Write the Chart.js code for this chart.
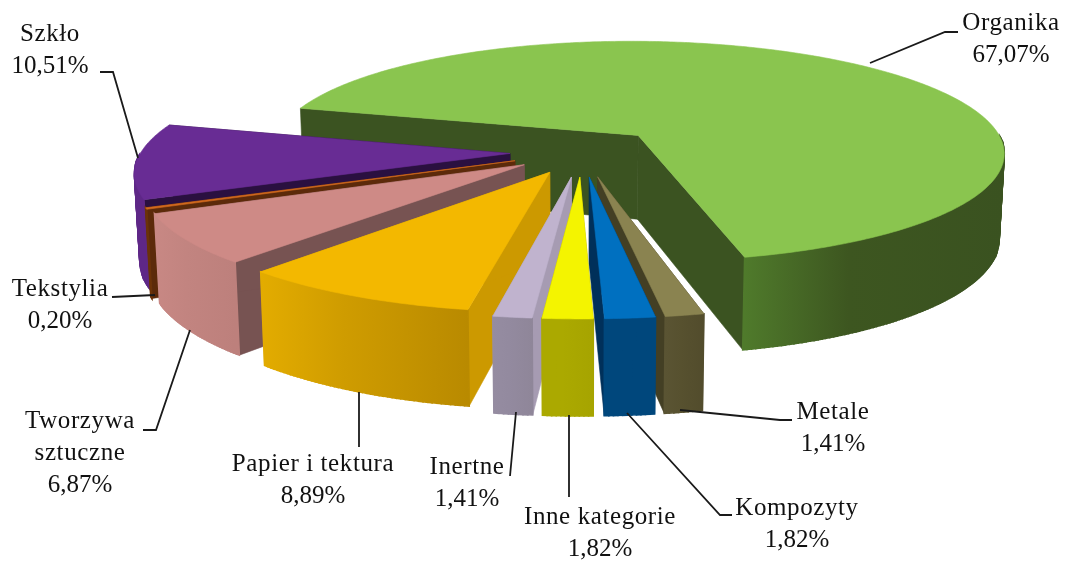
<!DOCTYPE html>
<html>
<head>
<meta charset="utf-8">
<title>Skład odpadów</title>
<script src="https://cdn.jsdelivr.net/npm/chart.js@4"></script>
<style>
  html, body { margin: 0; background: #fff; }
  canvas { display: block; }
</style>
</head>
<body>
<canvas id="wasteChart" width="1067" height="563"></canvas>
<script>
// data, clockwise from Organika
const categories = ['Organika', 'Metale', 'Kompozyty', 'Inne kategorie', 'Inertne', 'Papier i tektura', ['Tworzywa', 'sztuczne'], 'Tekstylia', 'Szkło'];
const shares = [67.07, 1.41, 1.82, 1.82, 1.41, 8.89, 6.87, 0.20, 10.51];

// how far each slice is pulled out, in plane units
const explode = [80, 80, 80, 80, 80, 72, 70, 72, 72];

// colours per slice
const topColors = ['#8AC54F', '#8A8350', '#0070C0', '#F4F400', '#C0B3CE', '#F3B800', '#CE8A86', '#D2691E', '#682C94'];
const faceColors = ['#3B5321', '#433F24', '#00305A', '#ABA900', '#A69BB2', '#CC9900', '#775352', '#5C2A0A', '#2A1040'];
const rimColors = [
  ['#4F7A2B', '#3D5620', '#3A5220'],
  ['#5A5433', '#57512F', '#524C2C'],
  ['#00477C', '#00477C', '#00477C'],
  ['#ABA900', '#ABA900', '#A6A400'],
  ['#958CA1', '#938A9F', '#8F8699'],
  ['#E3AC00', '#CF9C00', '#B98A00'],
  ['#C88884', '#C28480', '#BD807C'],
  ['#6B3208', '#6B3208', '#6B3208'],
  ['#5E2787', '#5E2787', '#5E2787']
];

// label placement: text centre x, first line middle y, line gap
const labelX = [1011, 833, 797, 600, 467, 313, 80, 60, 50];
const labelY = [23, 412, 508, 517, 467, 464, 421, 289, 34];
const lineGap = 32;
const leaders = [
  [[870, 63], [945, 32], [958, 32]],
  [[680, 410], [780, 420], [792, 420]],
  [[627, 413], [720, 515], [732, 515]],
  [[569, 415], [569, 497]],
  [[516, 412], [510, 476]],
  [[359, 392], [359, 447]],
  [[190, 330], [156, 430], [143, 430]],
  [[155, 295], [112, 297]],
  [[138, 158], [113, 72], [100, 72]]
];

// projection of the pie plane on to the picture
const centerX = 582, centerY = 152;
const planeRadius = 369, tilt = 0.305, perspective = 0.0004;

function project(u, v) {
  const w = 1 / (1 - perspective * v);
  return { x: centerX + u * w, y: centerY + tilt * v * w, w: w };
}
function lower(p) {
  // bottom of the wall under a point of the top face
  return { x: centerX + (p.x - centerX) * 0.988, y: p.y + 30 + 55 * p.w };
}
function fillPath(ctx, pts, fill, edge = 0.6) {
  ctx.beginPath();
  pts.forEach((p, i) => i ? ctx.lineTo(p.x, p.y) : ctx.moveTo(p.x, p.y));
  ctx.closePath();
  ctx.fillStyle = fill;
  ctx.strokeStyle = fill;
  ctx.lineWidth = edge;
  ctx.fill();
  ctx.stroke();
}

const pie3d = {
  id: 'pie3d',
  // the flat arcs are replaced by the tilted ones below
  beforeDatasetDraw() { return false; },
  afterDatasetsDraw(chart) {
    const ctx = chart.ctx;
    const slices = chart.getDatasetMeta(0).data.map((el, i) => {
      const mid = (el.startAngle + el.endAngle) / 2;
      const ox = Math.cos(mid) * el.options.offset;
      const oy = Math.sin(mid) * el.options.offset;
      const steps = Math.max(2, Math.ceil((el.endAngle - el.startAngle) * 90));
      const rim = [], front = [];
      for (let s = 0; s <= steps; s++) {
        const a = el.startAngle + (el.endAngle - el.startAngle) * s / steps;
        const p = project(ox + Math.cos(a) * planeRadius, oy + Math.sin(a) * planeRadius);
        rim.push(p);
        // wall only on the half facing the viewer
        if (Math.sin(a) >= 0) front.push(p);
      }
      return { i, mid, apex: project(ox, oy), rim, front };
    });

    // far slices first
    slices.sort((a, b) => Math.sin(a.mid) - Math.sin(b.mid));
    slices.forEach(s => {
      const first = s.rim[0], last = s.rim[s.rim.length - 1];
      fillPath(ctx, [s.apex, first, lower(first), lower(s.apex)], faceColors[s.i]);
      fillPath(ctx, [s.apex, last, lower(last), lower(s.apex)], faceColors[s.i]);
      if (s.front.length > 1) {
        const xs = s.front.map(p => p.x);
        const grad = ctx.createLinearGradient(Math.min(...xs), 0, Math.max(...xs), 0);
        const stops = rimColors[s.i];
        grad.addColorStop(0, stops[0]);
        grad.addColorStop(0.4, stops[1]);
        grad.addColorStop(1, stops[2]);
        // one quad per step, the outline of the whole wall folds over itself at the edges
        for (let n = 0; n < s.front.length - 1; n++) {
          const a = s.front[n], b = s.front[n + 1];
          fillPath(ctx, [a, b, lower(b), lower(a)], grad, 1.6);
        }
      }
      fillPath(ctx, [s.apex].concat(s.rim), topColors[s.i]);
    });
  },
  afterDraw(chart) {
    const ctx = chart.ctx;
    ctx.save();
    ctx.strokeStyle = '#1a1a1a';
    ctx.lineWidth = 1.8;
    leaders.forEach(line => {
      ctx.beginPath();
      line.forEach((p, i) => i ? ctx.lineTo(p[0], p[1]) : ctx.moveTo(p[0], p[1]));
      ctx.stroke();
    });
    ctx.fillStyle = '#111';
    ctx.font = '25px "Liberation Serif"';
    ctx.textAlign = 'center';
    ctx.textBaseline = 'middle';
    categories.forEach((name, i) => {
      const names = [].concat(name);
      ctx.letterSpacing = '0.6px';
      names.forEach((t, n) => ctx.fillText(t, labelX[i], labelY[i] + n * lineGap));
      ctx.letterSpacing = '0px';
      ctx.fillText(shares[i].toFixed(2).replace('.', ',') + '%', labelX[i], labelY[i] + names.length * lineGap);
    });
    ctx.restore();
  }
};

new Chart(document.getElementById('wasteChart').getContext('2d'), {
  type: 'pie',
  data: {
    labels: categories,
    datasets: [{
      data: shares,
      backgroundColor: topColors,
      borderWidth: 0,
      offset: explode
    }]
  },
  options: {
    responsive: false,
    animation: false,
    rotation: -74.85,
    plugins: { legend: { display: false }, tooltip: { enabled: false } }
  },
  plugins: [pie3d]
});
</script>
</body>
</html>
